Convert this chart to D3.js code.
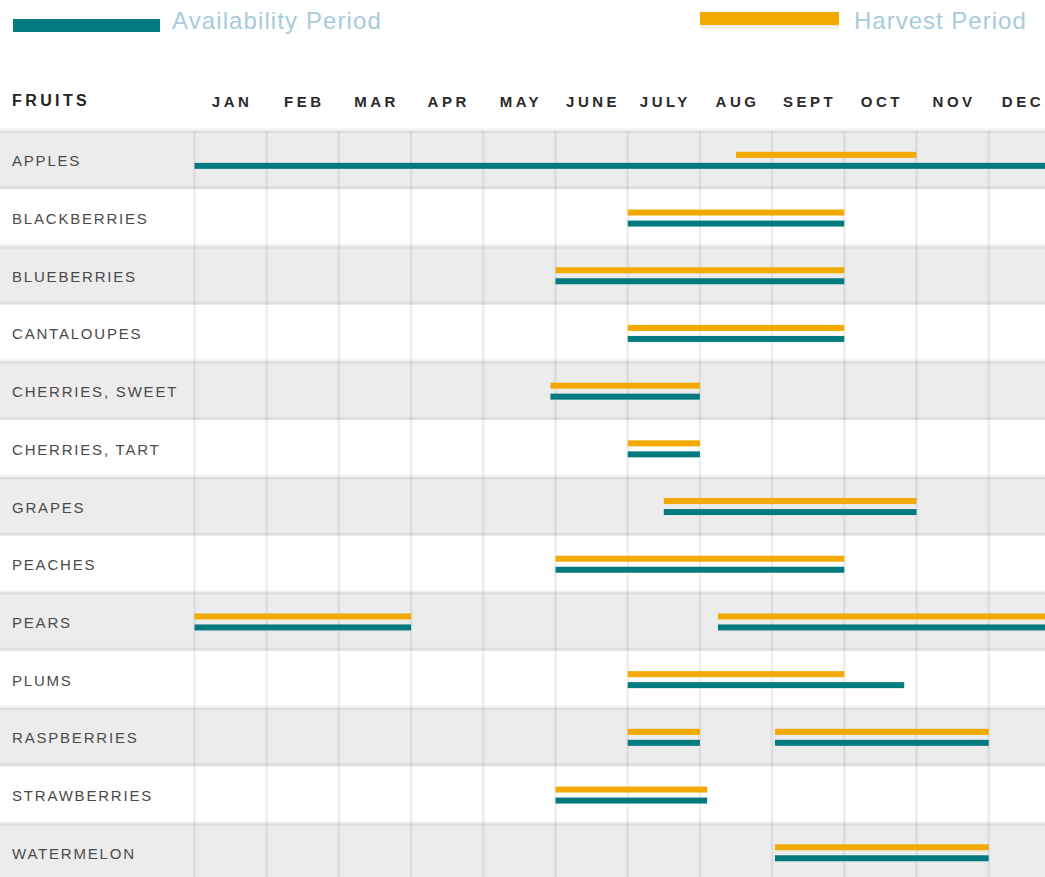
<!DOCTYPE html>
<html>
<head>
<meta charset="utf-8">
<script src="https://cdn.jsdelivr.net/npm/d3@7"></script>
<style>
  html, body { margin: 0; padding: 0; background: #fff; }
  svg { display: block; font-family: "Liberation Sans", Arial, sans-serif; }
</style>
</head>
<body>
<svg id="chart" width="1045" height="877"></svg>
<script>
// ---- data (months as decimals: 0 = Jan 1, 12 = end of Dec) ----
const months = ["JAN","FEB","MAR","APR","MAY","JUNE","JULY","AUG","SEPT","OCT","NOV","DEC"];
const fruits = ["APPLES","BLACKBERRIES","BLUEBERRIES","CANTALOUPES","CHERRIES, SWEET","CHERRIES, TART",
                "GRAPES","PEACHES","PEARS","PLUMS","RASPBERRIES","STRAWBERRIES","WATERMELON"];
const harvestPeriods = [
  [[7.5, 10]],
  [[6, 9]],
  [[5, 9]],
  [[6, 9]],
  [[4.93, 7]],
  [[6, 7]],
  [[6.5, 10]],
  [[5, 9]],
  [[0, 3], [7.25, 12]],
  [[6, 9]],
  [[6, 7], [8.04, 11]],
  [[5, 7.1]],
  [[8.04, 11]]
];
const availabilityPeriods = [
  [[0, 12]],
  [[6, 9]],
  [[5, 9]],
  [[6, 9]],
  [[4.93, 7]],
  [[6, 7]],
  [[6.5, 10]],
  [[5, 9]],
  [[0, 3], [7.25, 12]],
  [[6, 9.83]],
  [[6, 7], [8.04, 11]],
  [[5, 7.1]],
  [[8.04, 11]]
];
const legendLabels = ["Availability Period", "Harvest Period"];
const headerLabel = "FRUITS";

// ---- layout ----
const W = 1045, H = 877;
const teal = "#037a7e", orange = "#f2aa00";
const rowTop = 131, rowH = 57.7;

const svg = d3.select("#chart");
svg.append("rect").attr("width", W).attr("height", H).attr("fill", "#fff");

const x = d3.scaleLinear().domain([0, 12]).range([194.5, 194.5 + 72.2 * 12]);
const y = d3.scaleBand().domain(fruits).range([rowTop, rowTop + rowH * fruits.length]).paddingInner(0).paddingOuter(0);

// ---- row bands ----
const rows = svg.append("g");
rows.selectAll("line.sep").data(fruits).join("line")
  .attr("x1", 0).attr("x2", W)
  .attr("y1", d => y(d) - 1).attr("y2", d => y(d) - 1)
  .attr("stroke", "#f3f3f3").attr("stroke-width", 3);
fruits.forEach((f, i) => {
  if (i % 2 === 0) {
    rows.append("rect")
      .attr("x", 0).attr("width", W)
      .attr("y", y(f)).attr("height", y.bandwidth())
      .attr("fill", "#ececec");
    rows.append("line").attr("x1", 0).attr("x2", W)
      .attr("y1", y(f) + 1).attr("y2", y(f) + 1)
      .attr("stroke", "#dfdfdf").attr("stroke-width", 2.5);
    rows.append("line").attr("x1", 0).attr("x2", W)
      .attr("y1", y(f) + y.bandwidth() - 1).attr("y2", y(f) + y.bandwidth() - 1)
      .attr("stroke", "#dfdfdf").attr("stroke-width", 3);
  }
});

// ---- vertical month gridlines ----
svg.append("g").selectAll("line").data(d3.range(0, 12)).join("line")
  .attr("x1", d => x(d)).attr("x2", d => x(d))
  .attr("y1", rowTop).attr("y2", H)
  .attr("stroke", "rgba(0,0,0,0.065)").attr("stroke-width", 2.5);

// ---- header ----
svg.append("text")
  .attr("x", 12).attr("y", 106)
  .attr("font-size", 16).attr("font-weight", "bold")
  .attr("letter-spacing", 3.4).attr("fill", "#222")
  .text(headerLabel);

const last = months.length - 1;
svg.append("g").selectAll("text").data(months).join("text")
  .attr("x", (d, i) => i === last ? W - 1 : (x(i) + x(i + 1)) / 2 + 1.5)
  .attr("y", 107)
  .attr("text-anchor", (d, i) => i === last ? "end" : "middle")
  .attr("font-size", 15).attr("font-weight", "bold")
  .attr("letter-spacing", 3.5).attr("fill", "#2a2a2a")
  .text(d => d);

// ---- row labels ----
svg.append("g").selectAll("text").data(fruits).join("text")
  .attr("x", 12)
  .attr("y", d => y(d) + y.bandwidth() / 2 + 6.5)
  .attr("font-size", 15).attr("letter-spacing", 1.8).attr("fill", "#4a4a4a")
  .text(d => d);

// ---- bars ----
const barH = 6;
const bars = svg.append("g");
fruits.forEach((f, i) => {
  const cy = y(f) + y.bandwidth() / 2;
  bars.selectAll(null).data(harvestPeriods[i]).join("rect")
    .attr("x", d => x(d[0])).attr("width", d => x(d[1]) - x(d[0]))
    .attr("y", cy - 5 - barH / 2).attr("height", barH)
    .attr("fill", orange);
  bars.selectAll(null).data(availabilityPeriods[i]).join("rect")
    .attr("x", d => x(d[0])).attr("width", d => x(d[1]) - x(d[0]))
    .attr("y", cy + 6 - barH / 2).attr("height", barH)
    .attr("fill", teal);
});

// ---- legend ----
const leg = svg.append("g");
leg.append("rect").attr("x", 13).attr("y", 19).attr("width", 147).attr("height", 13).attr("fill", teal);
leg.append("text").attr("x", 172).attr("y", 29)
  .attr("font-size", 24).attr("letter-spacing", 1.1).attr("fill", "#a7cbdc")
  .text(legendLabels[0]);
leg.append("rect").attr("x", 700).attr("y", 12).attr("width", 139).attr("height", 13).attr("fill", orange);
leg.append("rect").attr("x", 700).attr("y", 25).attr("width", 139).attr("height", 4).attr("fill", "#f6f0e2");
leg.append("text").attr("x", 854).attr("y", 29)
  .attr("font-size", 24).attr("letter-spacing", 1.0).attr("fill", "#a7cbdc")
  .text(legendLabels[1]);
</script>
</body>
</html>
